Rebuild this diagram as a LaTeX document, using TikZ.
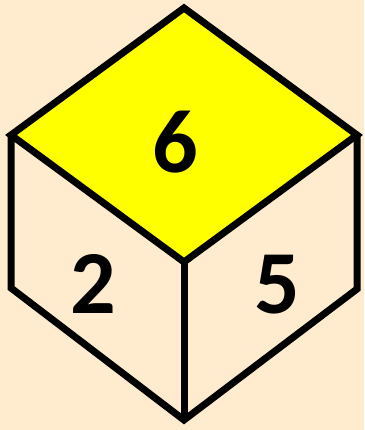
\documentclass[tikz,border=0pt]{standalone}
\usepackage{fontspec}
\setmainfont{Carlito}
\definecolor{bgpeach}{RGB}{255,235,205}
\definecolor{topyellow}{RGB}{255,255,0}
\tikzset{
  face/.style={draw=black, line width=7pt, line join=miter},
  num/.style={font=\bfseries\fontsize{90}{90}\selectfont, inner sep=0pt, anchor=center}
}
\begin{document}
\begin{tikzpicture}[x=1pt,y=1pt]
\fill[bgpeach] (0,0) rectangle (364,430);
\useasboundingbox (0,0) rectangle (364,430);
\coordinate (T) at (184,422);
\coordinate (L) at (11,295);
\coordinate (R) at (357,295);
\coordinate (C) at (184,168);
\coordinate (LB) at (11,142);
\coordinate (RB) at (357,141);
\coordinate (B) at (184,10);
\filldraw[face, fill=topyellow] (T) -- (R) -- (C) -- (L) -- cycle;
\draw[face] (L) -- (LB) -- (B) -- (RB) -- (R);
\draw[face] (C) -- (B);
\node[num] (six) at (175,288) {6};
\node[num] (two) at (93,146) {2};
\node[num] (five) at (277,145) {5};
\end{tikzpicture}
\end{document}
